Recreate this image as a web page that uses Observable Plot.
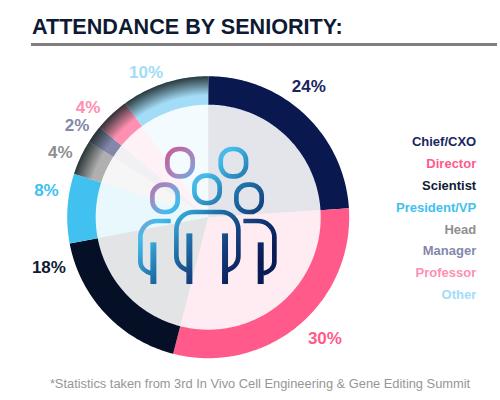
<!DOCTYPE html>
<html>
<head>
<meta charset="utf-8">
<script src="https://cdn.jsdelivr.net/npm/d3@7"></script>
<script src="https://cdn.jsdelivr.net/npm/@observablehq/plot@0.6"></script>
<style>
html,body{margin:0;padding:0;background:#fff;overflow:hidden;width:500px;height:400px}
body{font-family:"Liberation Sans",Arial,sans-serif}
#title{position:absolute;left:32px;top:15px;font-size:21.6px;line-height:24px;font-weight:700;color:#0e1a33;white-space:nowrap}
#rule{position:absolute;left:31px;top:43px;width:466px;height:3px;background:#7f7f7f}
#chart{position:absolute;left:0;top:50px}
#caption{position:absolute;left:0;width:520px;top:376px;text-align:center;font-size:12.85px;line-height:16px;color:#969696;white-space:nowrap}
</style>
</head>
<body>
<div id="title"></div>
<div id="rule"></div>
<div id="chart"></div>
<div id="caption"></div>
<script>
const titleText = "ATTENDANCE BY SENIORITY:";
const captionText = "*Statistics taken from 3rd In Vivo Cell Engineering & Gene Editing Summit";
const categories = ["Chief/CXO","Director","Scientist","President/VP","Head","Manager","Professor","Other"];
const shares = [24,30,18,8,4,2,4,10];
const colors = ["#0a1850","#ff5a8a","#050f26","#41c1ef","#b0b0b0","#8388ab","#ff8fb0","#a2dcf7"];
const legendColors = ["#1a2560","#ff5a8a","#101a33","#41c1ef","#8f8f8f","#8388ab","#ff8fb0","#a2dcf7"];
const shaded = ["Head","Manager","Professor","Other"];
const labelAngles = [37.6,136,252.5,279.5,293.7,305,312.5,336.7];
const labelRadii = [165,168,167,164,161.6,160,163,157];

const outerR = 141, innerR = 112.5;
const pie = d3.pie().sort(null)(shares);
const rows = categories.map((name,i)=>({name,share:shares[i],color:colors[i],legendColor:legendColors[i],
  a0:pie[i].startAngle,a1:pie[i].endAngle,i}));

function wedge(row,r0,r1){
  const n = Math.max(2,Math.ceil((row.a1-row.a0)*180/Math.PI));
  const ang = d3.range(n+1).map(k=>row.a0+(row.a1-row.a0)*k/n);
  const pt = (a,r)=>({name:row.name,color:row.color,x:r*Math.sin(a),y:-r*Math.cos(a)});
  const outer = ang.map(a=>pt(a,r1));
  const inner = r0>0 ? ang.slice().reverse().map(a=>pt(a,r0)) : [pt(0,0)];
  return outer.concat(inner);
}
const ringPts = rows.flatMap(r=>wedge(r,innerR,outerR));
const corePts = rows.flatMap(r=>wedge(r,0,innerR+0.5));
const shadePts = rows.filter(r=>shaded.includes(r.name)).flatMap(r=>wedge(r,innerR,outerR));

const labels = rows.map((r,i)=>({text:r.share+"%",color:r.legendColor,
  x:labelRadii[i]*Math.sin(labelAngles[i]*Math.PI/180),
  y:-labelRadii[i]*Math.cos(labelAngles[i]*Math.PI/180)}));
const legendRows = rows.map((r,i)=>({text:r.name,color:r.legendColor,x:268,y:-75+i*21.8}));

// Decorative people glyph, in its own drawing units
const iconHeads = [[360,308],[520,308],[441,388],[315,415],[567,415]];
const iconLines = [
 "M385 632C365 625 349 610 349 588V510C349 478 372 456 402 456H482C512 456 535 478 535 510V588C535 610 519 625 499 632",
 "M332 483H292C262 483 241 505 241 532V605C241 622 255 635 275 640",
 "M550 483H592C622 483 643 505 643 532V605C643 622 629 635 609 640"];
const iconBars = ["M388 520V672","M495 520V672","M280 547V672","M602 547V672"];
const iconStops = [[0,"#c4609a"],[0.17,"#9c8fc9"],[0.3,"#41bdec"],[0.55,"#1f6fa8"],[0.75,"#14417f"],[1,"#0a1a55"]];

function defsMark(index,{x,y}){
  const svg = d3.create("svg:g");
  const g = svg.append("defs").append("radialGradient").attr("id","shade")
    .attr("gradientUnits","userSpaceOnUse").attr("cx",x(0)).attr("cy",y(0)).attr("r",x(outerR)-x(0));
  g.append("stop").attr("offset",0.865).attr("stop-color","#1f2a2c").attr("stop-opacity",0);
  g.append("stop").attr("offset",1).attr("stop-color","#1f2a2c").attr("stop-opacity",0.92);
  return svg.node();
}
function iconMark(index,{x,y}){
  const k = 1/3;
  const svg = d3.create("svg:g").attr("transform",`translate(${x(0)},${y(0)}) scale(${k}) translate(-443,-470)`);
  const lg = svg.append("defs").append("linearGradient").attr("id","iconGrad")
    .attr("gradientUnits","userSpaceOnUse").attr("x1",300).attr("y1",300).attr("x2",600).attr("y2",600);
  iconStops.forEach(([o,c])=>lg.append("stop").attr("offset",o).attr("stop-color",c));
  const st = sel=>sel.attr("fill","none").attr("stroke","url(#iconGrad)");
  iconHeads.forEach(([cx,cy])=>st(svg.append("rect")).attr("x",cx-38).attr("y",cy-41)
    .attr("width",76).attr("height",82).attr("rx",34).attr("stroke-width",14));
  iconLines.forEach(d=>st(svg.append("path")).attr("d",d).attr("stroke-width",14));
  iconBars.forEach(d=>st(svg.append("path")).attr("d",d).attr("stroke-width",18));
  return svg.node();
}

const chart = Plot.plot({
  width:500,height:320,margin:0,
  x:{domain:[-207.7,292.3],range:[0,500],axis:null},
  y:{domain:[-166.7,153.3],range:[0,320],axis:null},
  style:{background:"transparent",fontFamily:"'Liberation Sans',Arial,sans-serif"},
  marks:[
    defsMark,
    Plot.line(corePts,{x:"x",y:"y",z:"name",fill:"color",fillOpacity:0.115,stroke:"none"}),
    Plot.line(ringPts,{x:"x",y:"y",z:"name",fill:"color",stroke:"none"}),
    Plot.line(shadePts,{x:"x",y:"y",z:"name",fill:"url(#shade)",stroke:"none"}),
    iconMark,
    Plot.text(labels,{x:"x",y:"y",text:"text",fill:"color",fontSize:17,fontWeight:700,textAnchor:"middle",lineAnchor:"middle"}),
    Plot.text(legendRows,{x:"x",y:"y",text:"text",fill:"color",fontSize:13,fontWeight:700,textAnchor:"end",lineAnchor:"middle"})
  ]
});
document.getElementById("chart").appendChild(chart);
document.getElementById("title").textContent = titleText;
document.getElementById("caption").textContent = captionText;
</script>
</body>
</html>
